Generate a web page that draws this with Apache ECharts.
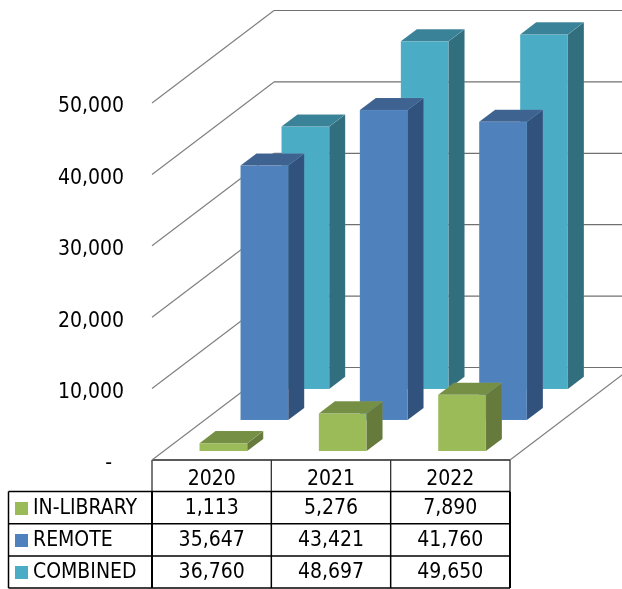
<!DOCTYPE html>
<html>
<head>
<meta charset="utf-8">
<title>Circulation</title>
<style>
html, body { margin: 0; padding: 0; background: #fff; }
#chart { width: 622px; height: 589px; }
</style>
<script src="https://cdn.jsdelivr.net/npm/echarts@6/dist/echarts.min.js"></script>
</head>
<body>
<div id="chart"></div>
<script>
var years = ['2020', '2021', '2022'];
var inLibrary = [1113, 5276, 7890];
var remote = [35647, 43421, 41760];
var combined = [36760, 48697, 49650];
var yTicks = [0, 10000, 20000, 30000, 40000, 50000];

var FONT = '"DejaVu Sans Condensed", "DejaVu Sans", sans-serif';
var FONT_SIZE = 21;

// 绘图区（前平面）
var GRID_LEFT = 152, GRID_RIGHT = 510, GRID_TOP = 103, GRID_BOTTOM = 460;
// 三维纵深：地板从前沿到后墙的偏移
var DEPTH_X = 122, DEPTH_Y = 92.5;
// 表格
var TABLE_LEFT = 8.5, ROW_TOP = 491.5, ROW_H = 32.2;

function fmt(v) {
    return String(v).replace(/\B(?=(\d{3})+$)/g, ',');
}

/**
 * 生成一组三维柱子
 * @param {number} row 纵深位置
 * @return {function} renderItem
 */
function barRenderer(row, front, top, side) {
    return function(params, api) {
        var base = api.coord([api.value(0), 0]);
        var head = api.coord([api.value(0), api.value(1)]);
        var band = api.size([1, 0])[0];
        var w = band * 0.4;
        var ox = DEPTH_X * row, oy = DEPTH_Y * row;
        var dx = DEPTH_X * 0.131, dy = DEPTH_Y * 0.131;
        var x0 = base[0] + ox - w / 2, x1 = x0 + w;
        var yb = base[1] - oy, yt = head[1] - oy;
        var edge = 'rgba(255,255,255,0.12)';
        return {
            type: 'group',
            children: [{
                type: 'polygon',
                shape: { points: [[x0, yb], [x1, yb], [x1, yt], [x0, yt]] },
                style: { fill: front, stroke: edge, lineWidth: 0.5 }
            }, {
                type: 'polygon',
                shape: { points: [[x1, yb], [x1 + dx, yb - dy], [x1 + dx, yt - dy], [x1, yt]] },
                style: { fill: side, stroke: edge, lineWidth: 0.5 }
            }, {
                type: 'polygon',
                shape: { points: [[x0, yt], [x1, yt], [x1 + dx, yt - dy], [x0 + dx, yt - dy]] },
                style: { fill: top, stroke: edge, lineWidth: 0.5 }
            }]
        };
    };
}

/**
 * 后墙网格线和地板
 */
function wallRenderer(params, api) {
    var sys = params.coordSys;
    var y = api.coord([0, api.value(1)])[1];
    var l = sys.x, r = sys.x + sys.width;
    var children = [{
        type: 'polyline',
        shape: { points: [[l, y], [l + DEPTH_X, y - DEPTH_Y]] },
        style: { stroke: '#808080', lineWidth: 1.2, fill: null }
    }, {
        type: 'polyline',
        shape: { points: [[l + DEPTH_X, y - DEPTH_Y], [r + DEPTH_X, y - DEPTH_Y]] },
        style: { stroke: '#707070', lineWidth: 1.2, fill: null }
    }];
    if (api.value(1) === 0) {
        children.push({
            type: 'polyline',
            shape: { points: [[r, y], [r + DEPTH_X, y - DEPTH_Y]] },
            style: { stroke: '#808080', lineWidth: 1.2, fill: null }
        });
    }
    return { type: 'group', children: children };
}

function toPoints(values) {
    return values.map(function(v, i) { return [i, v]; });
}

/**
 * 数据表：线条和单元格文字
 */
function tableGraphic() {
    var els = [];
    var colW = (GRID_RIGHT - GRID_LEFT) / years.length;
    var bottom = ROW_TOP + ROW_H * 3;
    var rows = [inLibrary, remote, combined];
    function line(x1, y1, x2, y2, color, width) {
        els.push({
            type: 'line',
            shape: { x1: x1, y1: y1, x2: x2, y2: y2 },
            style: { stroke: color, lineWidth: width },
            silent: true
        });
    }
    // 年份表头
    line(GRID_LEFT, GRID_BOTTOM, GRID_RIGHT, GRID_BOTTOM, '#222', 1.3);
    for (var c = 0; c <= years.length; c++) {
        var x = GRID_LEFT + colW * c;
        line(x, GRID_BOTTOM, x, ROW_TOP, '#333', 1.3);
        line(x, ROW_TOP, x, bottom, '#000', c === 1 || c === 2 ? 1.5 : 2);
    }
    line(TABLE_LEFT, ROW_TOP, TABLE_LEFT, bottom, '#000', 1.5);
    for (var r = 0; r <= rows.length; r++) {
        line(TABLE_LEFT, ROW_TOP + ROW_H * r, GRID_RIGHT, ROW_TOP + ROW_H * r, '#000', 1.5);
    }
    rows.forEach(function(values, ri) {
        values.forEach(function(v, ci) {
            els.push({
                type: 'text',
                x: GRID_LEFT + colW * (ci + 0.5),
                y: ROW_TOP + ROW_H * (ri + 0.5) + 1,
                silent: true,
                style: {
                    text: fmt(v),
                    fill: '#000',
                    font: FONT_SIZE + 'px ' + FONT,
                    align: 'center',
                    verticalAlign: 'middle'
                }
            });
        });
    });
    return els;
}

var myChart = echarts.init(document.getElementById('chart'));
var option = {
    animation: false,
    textStyle: { fontFamily: FONT },
    grid: {
        left: GRID_LEFT,
        right: 622 - GRID_RIGHT,
        top: GRID_TOP,
        bottom: 589 - GRID_BOTTOM
    },
    legend: {
        left: 15,
        top: ROW_TOP + 6.5,
        padding: 0,
        orient: 'vertical',
        selectedMode: false,
        icon: 'rect',
        itemWidth: 13,
        itemHeight: 13,
        itemGap: 11,
        data: ['IN-LIBRARY', 'REMOTE', 'COMBINED'],
        textStyle: { fontFamily: FONT, fontSize: FONT_SIZE, color: '#000' }
    },
    xAxis: {
        type: 'category',
        data: years,
        axisLine: { show: false },
        axisTick: { show: false },
        axisLabel: { color: '#000', fontSize: FONT_SIZE, fontFamily: FONT, margin: 9 }
    },
    yAxis: {
        type: 'value',
        min: 0,
        max: 50000,
        interval: 10000,
        axisLine: { show: false },
        axisTick: { show: false },
        splitLine: { show: false },
        axisLabel: {
            color: '#000',
            fontSize: FONT_SIZE,
            fontFamily: FONT,
            margin: 28,
            // 标签比刻度低约 4px
            verticalAlign: 'top',
            lineHeight: 8,
            formatter: function(v) {
                return v === 0 ? '-\u00a0\u00a0' : fmt(v);
            }
        }
    },
    series: [{
        name: 'wall',
        type: 'custom',
        renderItem: wallRenderer,
        silent: true,
        data: yTicks.map(function(v) { return [0, v]; }),
        encode: { x: 0, y: 1 }
    }, {
        name: 'COMBINED',
        type: 'custom',
        renderItem: barRenderer(0.768, '#4bacc6', '#3a8297', '#316e7e'),
        itemStyle: { color: '#4bacc6' },
        data: toPoints(combined),
        encode: { x: 0, y: 1 }
    }, {
        name: 'REMOTE',
        type: 'custom',
        renderItem: barRenderer(0.432, '#4f81bd', '#3e6391', '#31527d'),
        itemStyle: { color: '#4f81bd' },
        data: toPoints(remote),
        encode: { x: 0, y: 1 }
    }, {
        name: 'IN-LIBRARY',
        type: 'custom',
        renderItem: barRenderer(0.096, '#9bbb59', '#758f44', '#667b3b'),
        itemStyle: { color: '#9bbb59' },
        data: toPoints(inLibrary),
        encode: { x: 0, y: 1 }
    }],
    graphic: tableGraphic()
};
myChart.setOption(option);
</script>
</body>
</html>
